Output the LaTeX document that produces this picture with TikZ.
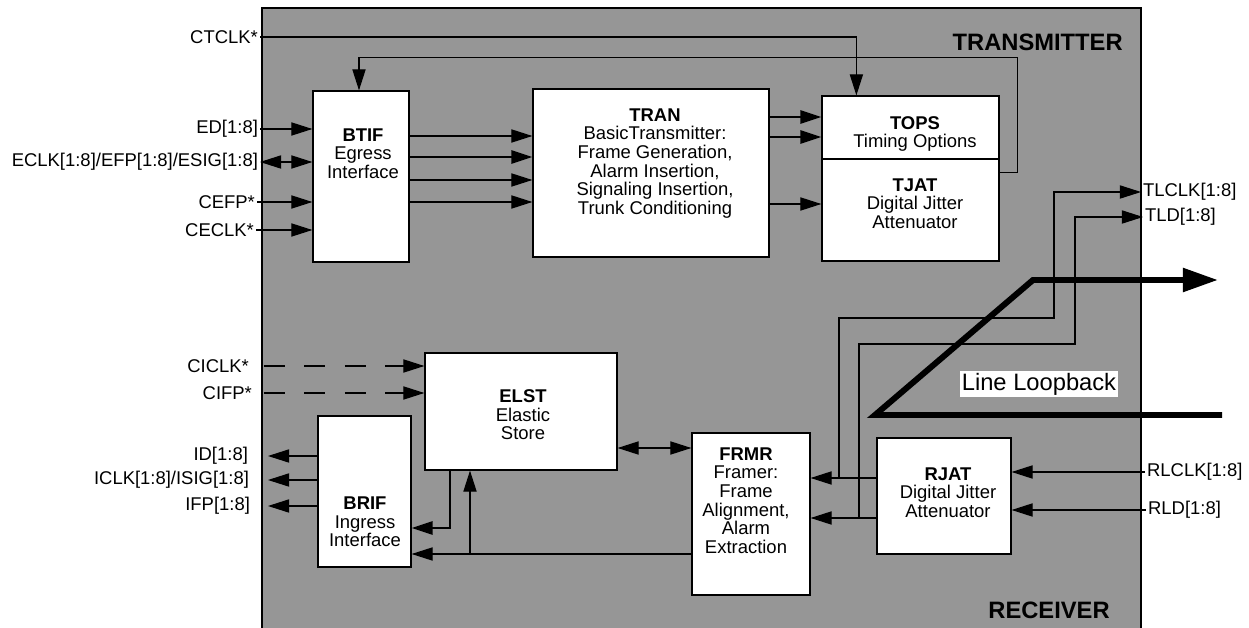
\documentclass[tikz,border=0pt]{standalone}
\usepackage{fontspec}
\setmainfont{Liberation Sans}
\usetikzlibrary{arrows.meta}
\definecolor{chipgray}{RGB}{150,150,150}

\begin{document}
\begin{tikzpicture}[x=0.02cm, y=-0.02cm,
        font=\fontsize{10.5}{10.6}\selectfont,
        blk/.style={draw, fill=white, line width=0.7pt},
        txt/.style={align=center, inner sep=0pt},
        pin/.style={inner sep=1pt},
        sig/.style={line width=0.7pt, -{Triangle[length=12pt, width=7.5pt]}},
        sigs/.style={line width=0.7pt, {Triangle[length=12pt, width=7.5pt]}-{Triangle[length=12pt, width=7.5pt]}},
        bus/.style={sig, line width=1.4pt},
        dsig/.style={sig, dash pattern=on 12pt off 11pt},
        big/.style={font=\fontsize{13.5}{14}\selectfont\bfseries, inner sep=0pt}]
        \useasboundingbox (0,0) rectangle (1249,628);
        \fill[chipgray] (262,8) rectangle (1141,628);
        \draw[line width=1.1pt] (262,628) -- (262,8) -- (1141,8) -- (1141,628);

        \node[blk, minimum width=1.92cm, minimum height=3.42cm] (btif) at (361,176.5) {};
        \node[blk, minimum width=4.72cm, minimum height=3.36cm] (tran) at (651,173) {};
        \node[blk, minimum width=3.54cm, minimum height=1.26cm] (tops) at (910.5,127.5) {};
        \node[blk, minimum width=3.54cm, minimum height=2.04cm] (tjat) at (910.5,210) {};
        \node[blk, minimum width=3.84cm, minimum height=2.34cm] (elst) at (521,411.5) {};
        \node[blk, minimum width=1.86cm, minimum height=3.02cm] (brif) at (364.5,491.5) {};
        \node[blk, minimum width=2.36cm, minimum height=3.24cm] (frmr) at (751,514) {};
        \node[blk, minimum width=2.68cm, minimum height=2.32cm] (rjat) at (944,496) {};

        \node[txt] (btift) at (363,153.5) {\textbf{BTIF}\\Egress\\Interface};
        \node[txt] (trant) at (655,163.5) {\textbf{TRAN}\\BasicTransmitter:\\Frame Generation,\\Alarm Insertion,\\Signaling Insertion,\\Trunk Conditioning};
        \node[txt] (topst) at (915,134) {\textbf{TOPS}\\Timing Options};
        \node[txt] (tjatt) at (915,203.5) {\textbf{TJAT}\\Digital Jitter\\Attenuator};
        \node[txt] (elstt) at (523,415) {\textbf{ELST}\\Elastic\\Store};
        \node[txt] (brift) at (365,522) {\textbf{BRIF}\\Ingress\\Interface};
        \node[txt] (frmrt) at (746,500.5) {\textbf{FRMR}\\Framer:\\Frame\\Alignment,\\Alarm\\Extraction};
        \node[txt] (rjatt) at (948,492.5) {\textbf{RJAT}\\Digital Jitter\\Attenuator};

        \node[big, anchor=east] (tx) at (1123,42) {TRANSMITTER};
        \node[big, anchor=east] (rx) at (1110,610) {RECEIVER};

        \node[pin, anchor=east] (ctclk) at (260,37)  {CTCLK*};
        \node[pin, anchor=east] (ed)    at (260,129) {ED[1:8]};
        \node[pin, anchor=east] (eclk)  at (260,162) {ECLK[1:8]/EFP[1:8]/ESIG[1:8]};
        \node[pin, anchor=east] (cefp)  at (257,202) {CEFP*};
        \node[pin, anchor=east] (ceclk) at (256,230) {CECLK*};
        \node[pin, anchor=east] (ciclk) at (251,366) {CICLK*};
        \node[pin, anchor=east] (cifp)  at (254,393) {CIFP*};
        \node[pin, anchor=east] (id)    at (250,456) {ID[1:8]};
        \node[pin, anchor=east] (iclk)  at (251,480) {ICLK[1:8]/ISIG[1:8]};
        \node[pin, anchor=east] (ifp)   at (252,506) {IFP[1:8]};
        \node[pin, anchor=west] (tlclk) at (1141,192) {TLCLK[1:8]};
        \node[pin, anchor=west] (tld)   at (1143,217) {TLD[1:8]};
        \node[pin, anchor=west] (rlclk) at (1145,472) {RLCLK[1:8]};
        \node[pin, anchor=west] (rld)   at (1146,510) {RLD[1:8]};

        \draw[sig] (ctclk.east) -| ([xshift=0.7cm]tops.north west);
        \draw[sig] ([yshift=-0.28cm]tjat.north east) -- ++(18,0) -- ++(0,-115) -| ([xshift=-0.04cm]btif.north);

        \draw[sig]  (ed.east)    -- (btif.west |- ed.east);
        \draw[sigs] (eclk.east)  -- (btif.west |- eclk.east);
        \draw[sig]  (cefp.east)  -- (btif.west |- cefp.east);
        \draw[sig]  (ceclk.east) -- (btif.west |- ceclk.east);

        \draw[sig] (btif.east |- 0,136) -- (tran.west |- 0,136);
        \draw[bus] (btif.east |- 0,157) -- (tran.west |- 0,157);
        \draw[sig] (btif.east |- 0,180) -- (tran.west |- 0,180);
        \draw[sig] (btif.east |- 0,202) -- (tran.west |- 0,202);

        \draw[bus] (tran.east |- 0,117) -- (tops.west |- 0,117);
        \draw[bus] (tran.east |- 0,137) -- (tops.west |- 0,137);
        \draw[sig] (tran.east |- 0,204) -- (tjat.west |- 0,204);

        \draw[sig] (rlclk.west) -- (rjat.east |- rlclk.west);
        \draw[sig] (rld.west)   -- (rjat.east |- rld.west);
        \draw[sig] (rjat.west |- 0,478) -- (frmr.east |- 0,478);
        \draw[sig] (rjat.west |- 0,518) -- (frmr.east |- 0,518);
        \coordinate (tclk) at (839,478);
        \coordinate (tdat) at (859,518);
        \draw[sig] (tclk) |- (1054,318) |- (tlclk.west);
        \draw[sig] (tdat) |- (1075,344) |- (tld.west);

        \draw[sigs] (elst.east |- 0,448) -- (frmr.west |- 0,448);
        \draw[dsig] ([xshift=0.26cm]ciclk.east) -- (elst.west |- ciclk.east);
        \draw[dsig] ([xshift=0.2cm]cifp.east)   -- (elst.west |- cifp.east);

        \draw[sig] (brif.west |- id.east)   -- ([xshift=0.36cm]id.east);
        \draw[sig] (brif.west |- iclk.east) -- ([xshift=0.34cm]iclk.east);
        \draw[sig] (brif.west |- ifp.east)  -- ([xshift=0.32cm]ifp.east);

        \draw[bus] ([xshift=-1.42cm]elst.south) |- (brif.east |- 0,528);
        \coordinate (tel) at (470,554);
        \draw[sig] (frmr.west |- tel) -- (brif.east |- tel);
        \draw[sig] (tel) -- (elst.south -| tel);

        \coordinate (lbi) at (1222,415);
        \coordinate (lbk) at (875,415);
        \coordinate (lbm) at (1033,280);
        \coordinate (lbo) at (1218,280);
        \draw[line width=3.4pt, -{Triangle[length=20pt, width=13pt]}] (lbi) -- (lbk) -- (lbm) -- (lbo);
        \node[fill=white, inner sep=1pt, font=\fontsize{13.5}{14}\selectfont] (lbl) at (1039,384) {Line Loopback};
    \end{tikzpicture}
\end{document}
